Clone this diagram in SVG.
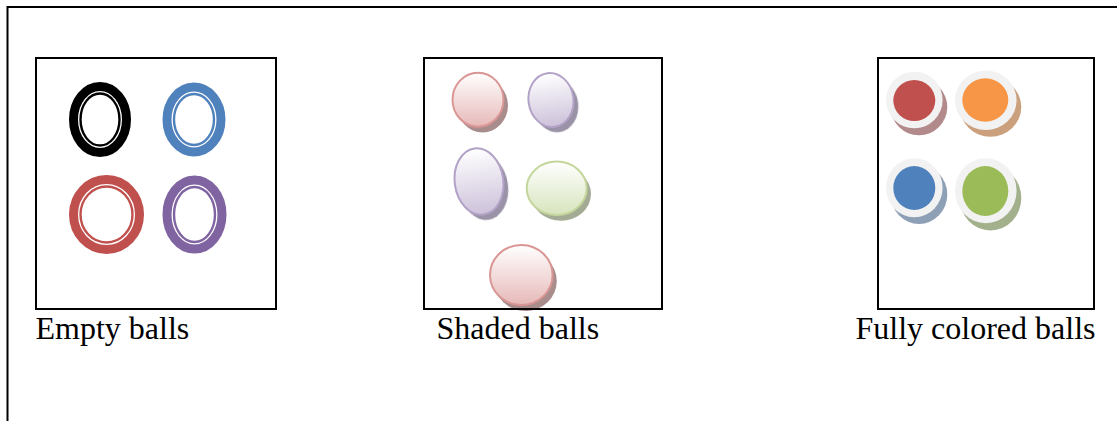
<svg xmlns="http://www.w3.org/2000/svg" width="1117" height="421" viewBox="0 0 1117 421">
<style>
.frame{fill:none;stroke:#000;stroke-width:2}
.box{fill:none;stroke:#000;stroke-width:2}
.lbl{font-family:"Liberation Serif","Times New Roman",serif;font-size:32px;fill:#000}
.band{fill:none;stroke-width:9}
.thin{fill:none;stroke-width:2.4}
.sh{filter:url(#blur)}
.gray{fill:#f2f2f2}
</style>
<defs>
<filter id="blur" x="-20%" y="-20%" width="140%" height="140%"><feGaussianBlur stdDeviation="0.7"/></filter>
<linearGradient id="gPink" x1="0" y1="0" x2="0" y2="1"><stop offset="0" stop-color="#ffffff"/><stop offset="1" stop-color="#e6b9b8"/></linearGradient>
<linearGradient id="gPurple" x1="0" y1="0" x2="0" y2="1"><stop offset="0" stop-color="#ffffff"/><stop offset="1" stop-color="#ccc1da"/></linearGradient>
<linearGradient id="gGreen" x1="0" y1="0" x2="0" y2="1"><stop offset="0" stop-color="#ffffff"/><stop offset="1" stop-color="#d7e4bd"/></linearGradient>
</defs>
<rect width="1117" height="421" fill="#fff"/>
<polyline class="frame" points="7.5,421 7.5,7 1117,7"/>

<g id="empty-balls">
  <g id="empty-black">
    <ellipse class="band" cx="100" cy="119.5" rx="26.5" ry="33" stroke="#000"/>
    <ellipse class="thin" cx="100" cy="119.5" rx="19.5" ry="26" stroke="#000"/>
  </g>
  <g id="empty-blue">
    <ellipse class="band" cx="194" cy="119.5" rx="27" ry="32.5" stroke="#4f81bd"/>
    <ellipse class="thin" cx="194" cy="119.5" rx="20" ry="25.5" stroke="#4f81bd"/>
  </g>
  <g id="empty-red">
    <ellipse class="band" cx="106.5" cy="214.5" rx="33" ry="35" stroke="#c0504d"/>
    <ellipse class="thin" cx="106.5" cy="214.5" rx="26" ry="28" stroke="#c0504d"/>
  </g>
  <g id="empty-purple">
    <ellipse class="band" cx="194.5" cy="214.5" rx="27.5" ry="34.5" stroke="#8064a2"/>
    <ellipse class="thin" cx="194.5" cy="214.5" rx="20.5" ry="27.5" stroke="#8064a2"/>
  </g>
  <rect class="box" x="36" y="58" width="240" height="251"/>
  <text class="lbl" x="35.5" y="339">Empty balls</text>
</g>

<g id="shaded-balls">
  <g id="shaded-pink-1">
    <ellipse class="sh" cx="482.5" cy="105.5" rx="25.5" ry="27" fill="#a98c8c"/>
    <ellipse cx="478" cy="99.7" rx="25.5" ry="27" fill="url(#gPink)" stroke="#d99694" stroke-width="2"/>
  </g>
  <g id="shaded-purple-1" transform="rotate(-8 551 100)">
    <ellipse class="sh" cx="555" cy="106" rx="22.5" ry="27" fill="#9a92a6"/>
    <ellipse cx="551" cy="100" rx="22.5" ry="27" fill="url(#gPurple)" stroke="#b3a2c7" stroke-width="2"/>
  </g>
  <g id="shaded-purple-2" transform="rotate(-8 479 181.5)">
    <ellipse class="sh" cx="483" cy="187.5" rx="24.3" ry="33.3" fill="#9a92a6"/>
    <ellipse cx="479" cy="181.5" rx="24.3" ry="33.3" fill="url(#gPurple)" stroke="#b3a2c7" stroke-width="2"/>
  </g>
  <g id="shaded-green">
    <ellipse class="sh" cx="561" cy="194" rx="30" ry="26.7" fill="#a3ab95"/>
    <ellipse cx="556.7" cy="188.3" rx="30" ry="26.7" fill="url(#gGreen)" stroke="#c3d69b" stroke-width="2"/>
  </g>
  <g id="shaded-pink-2">
    <ellipse class="sh" cx="525.5" cy="281" rx="31.3" ry="30" fill="#a98c8c"/>
    <ellipse cx="521.3" cy="275" rx="31.3" ry="30" fill="url(#gPink)" stroke="#d99694" stroke-width="2"/>
  </g>
  <rect class="box" x="424" y="58" width="238" height="251"/>
  <text class="lbl" x="436.5" y="339">Shaded balls</text>
</g>

<g id="colored-balls">
  <g id="colored-red">
    <ellipse class="sh" cx="919" cy="107" rx="28.3" ry="28.3" fill="#b38a8c"/>
    <ellipse class="gray" cx="914.3" cy="100" rx="28.3" ry="28.3"/>
    <ellipse cx="914.3" cy="100.5" rx="21" ry="20.5" fill="#c0504d"/>
  </g>
  <g id="colored-orange">
    <ellipse class="sh" cx="990.5" cy="107" rx="30.8" ry="29.7" fill="#cba07c"/>
    <ellipse class="gray" cx="985.8" cy="100.3" rx="30.8" ry="29.7"/>
    <ellipse cx="985.3" cy="100" rx="23" ry="21.7" fill="#f79646"/>
  </g>
  <g id="colored-blue">
    <ellipse class="sh" cx="919" cy="194.5" rx="28.3" ry="29.5" fill="#8ea0b6"/>
    <ellipse class="gray" cx="914.3" cy="187.8" rx="28.3" ry="29.5"/>
    <ellipse cx="914.3" cy="188" rx="21" ry="22" fill="#4f81bd"/>
  </g>
  <g id="colored-green">
    <ellipse class="sh" cx="990.5" cy="198" rx="30.8" ry="32.5" fill="#a3b08c"/>
    <ellipse class="gray" cx="985.8" cy="190.8" rx="30.8" ry="32.5"/>
    <ellipse cx="985.3" cy="191" rx="23" ry="25" fill="#9bbb59"/>
  </g>
  <rect class="box" x="878" y="58" width="216" height="251"/>
  <text class="lbl" x="855.5" y="339">Fully colored balls</text>
</g>
</svg>
